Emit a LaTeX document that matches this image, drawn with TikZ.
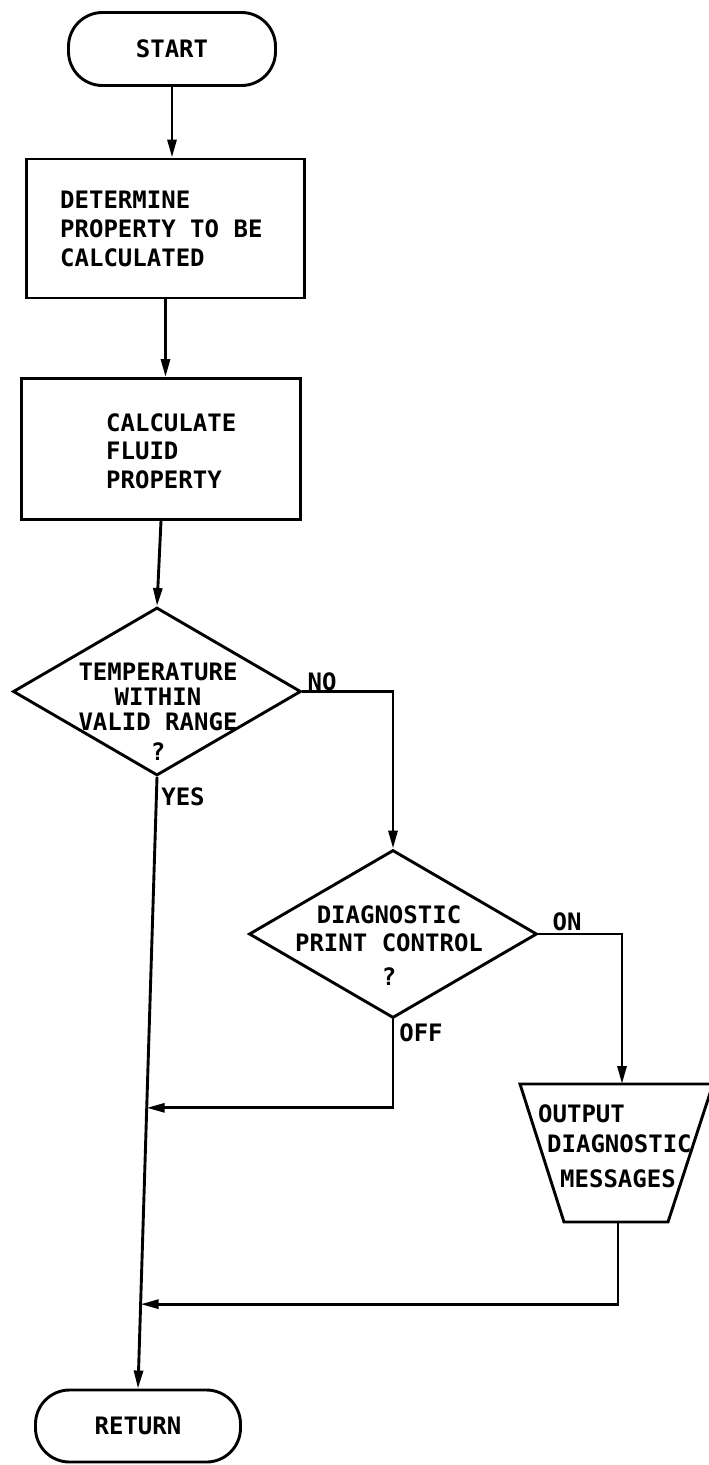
\documentclass[tikz,border=0pt]{standalone}
\usepackage{fontspec}
\setmainfont{DejaVu Sans Mono}
\usetikzlibrary{shapes.geometric,arrows.meta,calc}
\begin{document}
\begin{tikzpicture}[x=1pt,y=-1pt,
  every node/.style={font=\fontsize{24}{28}\selectfont\bfseries, inner sep=0pt},
  line/.style={line width=2.9pt},
  arr/.style={line width=2.9pt, -{Triangle[length=18pt,width=9pt]}},
  termbox/.style={draw, line width=2.9pt, rounded corners=34pt, minimum width=207pt, minimum height=73pt},
  procbox/.style={draw, line width=2.9pt, minimum width=278pt, minimum height=139pt},
  decbox/.style={draw, diamond, line width=2.9pt, minimum width=288pt, minimum height=168pt},
  txt/.style={align=left, anchor=west},
  lbl/.style={font=\fontsize{24}{28}\selectfont\bfseries}
]
\useasboundingbox (0,0) rectangle (709,1465);

\node[termbox] (start) at (172,49) {START};

\node[procbox] (box1) at (165.5,228.5) {};
\node[txt, font=\fontsize{24}{29}\selectfont\bfseries] (box1t) at (60,229) {DETERMINE\\PROPERTY TO BE\\CALCULATED};

\node[procbox, minimum width=279pt, minimum height=141pt] (box2) at (161,449) {};
\node[txt, font=\fontsize{24}{28.5}\selectfont\bfseries] (box2t) at (106,451) {CALCULATE\\FLUID\\PROPERTY};

\node[decbox] (d1) at (157,691.5) {};
\node[align=center, font=\fontsize{24}{25}\selectfont\bfseries] (d1t) at (158,712) {TEMPERATURE\\WITHIN\\VALID RANGE\\[5pt]?};

\node[decbox] (d2) at (393,934) {};
\node[align=center, font=\fontsize{24}{28}\selectfont\bfseries] (d2t) at (389,946) {DIAGNOSTIC\\PRINT CONTROL\\[6pt]?};

% output trapezoid
\coordinate (tTL) at (520,1084);
\coordinate (tTR) at (713,1084);
\coordinate (tBR) at (668,1222);
\coordinate (tBL) at (564,1222);
\coordinate (tin) at (622,1084);
\coordinate (tout) at (618,1222);
\draw[line, line join=miter] (tTL) -- (tTR) -- (tBR) -- (tBL) -- cycle;
\node[txt, font=\fontsize{24}{30}\selectfont\bfseries] (trapt) at (538,1146) {OUTPUT\\\hspace*{9pt}DIAGNOSTIC\\[5pt]\hspace*{22pt}MESSAGES};

\node[termbox, minimum width=205pt, minimum height=72pt] (ret) at (138,1426) {RETURN};

\node[lbl] (lno) at (322,682) {NO};
\node[lbl] (lyes) at (183,797) {YES};
\node[lbl] (lon) at (567,922) {ON};
\node[lbl] (loff) at (421,1033) {OFF};

\coordinate (j1) at ($(d1.south)!0.541!(ret.north)$);
\coordinate (j2) at ($(d1.south)!0.862!(ret.north)$);

\draw[arr] (start.south) -- (start.south |- box1.north);
\draw[arr] (box1.south) -- (box1.south |- box2.north);
\draw[arr] (box2.south) -- (d1.north);
\draw[arr] (d1.east) -| (d2.north);
\draw[arr] (d1.south) -- (ret.north);
\draw[arr] (d2.south) |- (j1);
\draw[arr] (d2.east) -| (tin);
\draw[arr] (tout) |- (j2);
\end{tikzpicture}
\end{document}
